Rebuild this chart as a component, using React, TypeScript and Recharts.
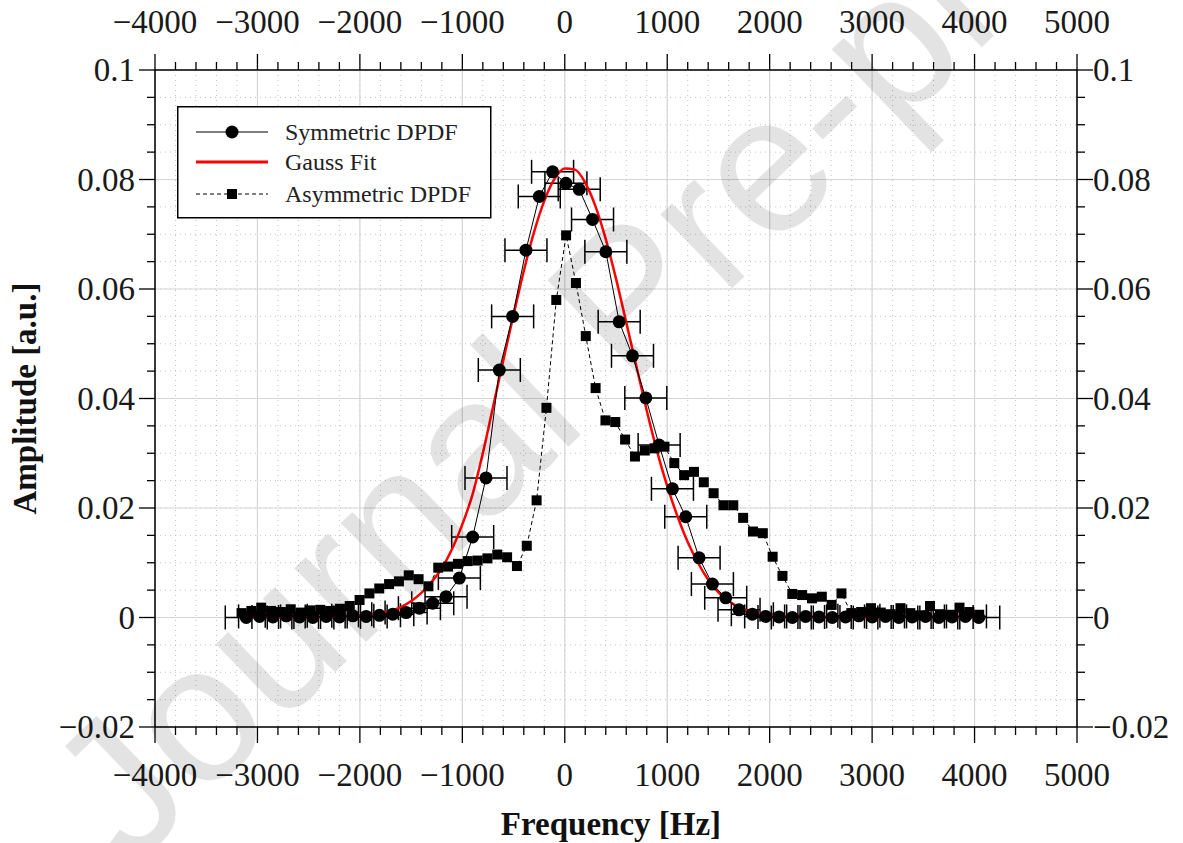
import React from "react";
import {
  ComposedChart,
  Line,
  Scatter,
  XAxis,
  YAxis,
  CartesianGrid,
  ErrorBar,
  Legend,
  Label,
} from "recharts";

// symmetric DPDF (Hz, a.u.)
const symFreq = [
  -3109, -2979, -2849, -2719, -2589, -2459, -2329, -2199, -2069, -1939,
  -1809, -1679, -1549, -1419, -1289, -1159, -1029, -899, -769, -639,
  -509, -379, -249, -119, 11, 141, 271, 401, 531, 661,
  791, 921, 1051, 1181, 1311, 1441, 1571, 1701, 1831, 1961,
  2091, 2221, 2351, 2481, 2611, 2741, 2871, 3001, 3131, 3261,
  3391, 3521, 3651, 3781, 3911, 4041,
];
const symAmp = [
  0.0, 0.0002, 0.0001, 0.0003, 0.0001, 0.0, 0.0002, 0.0001, 0.0003, 0.0002,
  0.0004, 0.0006, 0.0009, 0.0017, 0.0026, 0.0038, 0.0072, 0.0147, 0.0255, 0.0452,
  0.055, 0.0671, 0.0769, 0.0814, 0.0793, 0.0782, 0.0727, 0.0668, 0.054, 0.0478,
  0.0401, 0.0315, 0.0235, 0.0184, 0.0109, 0.0061, 0.0036, 0.0014, 0.0006, 0.0002,
  0.0001, 0.0, 0.0002, 0.0001, 0.0, 0.0001, 0.0003, 0.0001, 0.0002, 0.0,
  0.0001, 0.0002, 0.0, 0.0001, 0.0002, 0.0,
];
const symErr = 205; // half width of the frequency error bars

// asymmetric DPDF
const asymFreq = [
  -3155, -3059, -2963, -2867, -2771, -2675, -2579, -2483, -2387, -2291,
  -2195, -2099, -2003, -1907, -1811, -1715, -1619, -1523, -1427, -1331,
  -1235, -1139, -1043, -947, -851, -755, -659, -563, -467, -371,
  -275, -179, -83, 13, 109, 205, 301, 397, 493, 589,
  685, 781, 877, 973, 1069, 1165, 1261, 1357, 1453, 1549,
  1645, 1741, 1837, 1933, 2029, 2125, 2221, 2317, 2413, 2509,
  2605, 2701, 2797, 2893, 2989, 3085, 3181, 3277, 3373, 3469,
  3565, 3661, 3757, 3853, 3949, 4045,
];
const asymAmp = [
  0.0008, 0.0012, 0.0018, 0.0012, 0.001, 0.0015, 0.0009, 0.0013, 0.0014, 0.0012,
  0.0016, 0.0021, 0.0032, 0.0044, 0.0053, 0.0061, 0.0066, 0.0077, 0.007, 0.0057,
  0.0091, 0.0093, 0.0098, 0.0103, 0.0104, 0.0108, 0.0115, 0.011, 0.0094, 0.0131,
  0.0214, 0.0383, 0.058, 0.0698, 0.0611, 0.0514, 0.0419, 0.036, 0.0357, 0.0325,
  0.0294, 0.0305, 0.0309, 0.0312, 0.0282, 0.026, 0.0266, 0.0247, 0.0227, 0.0205,
  0.0205, 0.0182, 0.0157, 0.0154, 0.0111, 0.0076, 0.0043, 0.0041, 0.0035, 0.0038,
  0.0023, 0.0044, 0.0008, 0.001, 0.0017, 0.0009, 0.0006, 0.0017, 0.0008, 0.0004,
  0.0021, 0.0006, 0.0005, 0.0018, 0.001, 0.0005,
];

// gauss fit curve, sampled from the red line
const gaussFreq = [
  -3150, -2400, -2200, -2000, -1800, -1600, -1400, -1300, -1200, -1100,
  -1000, -900, -800, -700, -600, -500, -400, -300, -200, -100,
  0, 100, 200, 300, 400, 500, 600, 700, 800, 900,
  1000, 1100, 1200, 1300, 1400, 1500, 1600, 1800, 2000, 2200,
  2600, 4050,
];
const gaussAmp = [
  0.0, 0.0, 0.0001, 0.0003, 0.0008, 0.0019, 0.0045, 0.0065, 0.009, 0.0125,
  0.017, 0.0225, 0.03, 0.0385, 0.047, 0.0553, 0.0633, 0.0704, 0.0761, 0.0801,
  0.082, 0.0818, 0.0794, 0.0751, 0.0691, 0.0619, 0.0539, 0.0458, 0.0378, 0.0304,
  0.024, 0.0185, 0.0138, 0.01, 0.0069, 0.0046, 0.003, 0.0011, 0.0004, 0.0001,
  0.0, 0.0,
];

const xMajor = [-4000, -3000, -2000, -1000, 0, 1000, 2000, 3000, 4000, 5000];
const yMajor = [-0.02, 0, 0.02, 0.04, 0.06, 0.08, 0.1];
const xTicks = Array.from({ length: 46 }, (_, i) => -4000 + i * 200);
const yTicks = Array.from({ length: 25 }, (_, i) => Math.round((-0.02 + i * 0.005) * 1000) / 1000);

const symData = symFreq.map((f, i) => ({ x: f, y: symAmp[i], err: symErr }));
const asymData = asymFreq.map((f, i) => ({ x: f, y: asymAmp[i] }));
const gaussData = gaussFreq.map((f, i) => ({ x: f, y: gaussAmp[i] }));

const FONT = "'Liberation Serif', 'DejaVu Serif', serif";
const MAJ = 16;
const MIN = 8;

const fmt = (v: number) => (v < 0 ? "\u2212" + String(Math.abs(v)) : String(v));
const isMajX = (v: number) => xMajor.includes(v);
const isMajY = (v: number) => yMajor.some((m) => Math.abs(m - v) < 1e-9);

const tickText = { fontFamily: FONT, fontSize: 33, fill: "#1a1a1a" };

const bottomTick = ({ x, y, payload }: any) => {
  const maj = isMajX(payload.value);
  return (
    <g>
      <line x1={x} x2={x} y1={y} y2={y + (maj ? MAJ : MIN)} stroke="#000" strokeWidth={1.3} />
      {maj && (
        <text x={x} y={y + 48} textAnchor="middle" dominantBaseline="central" {...tickText}>
          {fmt(payload.value)}
        </text>
      )}
    </g>
  );
};

const topTick = ({ x, y, payload }: any) => {
  const maj = isMajX(payload.value);
  return (
    <g>
      <line x1={x} x2={x} y1={y} y2={y - (maj ? MAJ : MIN)} stroke="#000" strokeWidth={1.3} />
      {maj && (
        <text x={x} y={y - 48} textAnchor="middle" dominantBaseline="central" {...tickText}>
          {fmt(payload.value)}
        </text>
      )}
    </g>
  );
};

const leftTick = ({ x, y, payload }: any) => {
  const maj = isMajY(payload.value);
  return (
    <g>
      <line x1={x} x2={x - (maj ? MAJ : MIN)} y1={y} y2={y} stroke="#000" strokeWidth={1.3} />
      {maj && (
        <text x={x - 20} y={y} textAnchor="end" dominantBaseline="central" {...tickText}>
          {fmt(payload.value)}
        </text>
      )}
    </g>
  );
};

const rightTick = ({ x, y, payload }: any) => {
  const maj = isMajY(payload.value);
  return (
    <g>
      <line x1={x} x2={x + (maj ? MAJ : MIN)} y1={y} y2={y} stroke="#000" strokeWidth={1.3} />
      {maj && (
        <text x={x + 16} y={y} textAnchor="start" dominantBaseline="central" {...tickText}>
          {fmt(payload.value)}
        </text>
      )}
    </g>
  );
};

const circleShape = (p: any) => <circle cx={p.cx} cy={p.cy} r={6.5} fill="#000" />;
const squareShape = (p: any) => <rect x={p.cx - 5} y={p.cy - 5} width={10} height={10} fill="#000" />;

const legendText = { fontFamily: FONT, fontSize: 24, fill: "#222" };

const renderLegend = () => (
  <svg width={316} height={114} style={{ display: "block" }}>
    <rect x={0.75} y={0.75} width={313} height={111} fill="#fff" stroke="#000" strokeWidth={1.5} />
    <line x1={19} x2={91} y1={26} y2={26} stroke="#000" strokeWidth={1} />
    <circle cx={55} cy={26} r={6.5} fill="#000" />
    <text x={108} y={26} dominantBaseline="central" {...legendText}>Symmetric DPDF</text>
    <line x1={19} x2={91} y1={56} y2={56} stroke="#ff0000" strokeWidth={3} />
    <text x={108} y={56} dominantBaseline="central" {...legendText}>Gauss Fit</text>
    <line x1={19} x2={91} y1={88} y2={88} stroke="#000" strokeWidth={1} strokeDasharray="4 3" />
    <rect x={50} y={83} width={10} height={10} fill="#000" />
    <text x={108} y={88} dominantBaseline="central" {...legendText}>Asymmetric DPDF</text>
  </svg>
);

const axisLine = { stroke: "#000", strokeWidth: 1.5 };

export default function App() {
  return (
    <div style={{ position: "absolute", left: 0, top: 0, width: 1183, height: 843, background: "#fff" }}>
      <ComposedChart width={1183} height={843} margin={{ top: 0, right: 0, bottom: 0, left: 0 }}>
        <CartesianGrid
          stroke="#c4c4c4"
          strokeDasharray="1 4"
          verticalValues={xTicks}
          horizontalValues={yTicks}
        />
        <CartesianGrid stroke="#d6d6d6" strokeWidth={1.2} verticalValues={xMajor} horizontalValues={yMajor} />
        <XAxis
          dataKey="x"
          type="number"
          domain={[-4000, 5000]}
          allowDataOverflow
          ticks={xTicks}
          interval={0}
          height={116}
          tickSize={0}
          tickMargin={0}
          tickLine={false}
          axisLine={axisLine}
          tick={bottomTick}
        >
          <Label
            content={({ viewBox }: any) => (
              <text
                x={viewBox.x + viewBox.width / 2 - 5}
                y={viewBox.y + 97}
                textAnchor="middle"
                dominantBaseline="central"
                fontFamily={FONT}
                fontSize={33}
                fontWeight="bold"
                fill="#111"
              >
                Frequency [Hz]
              </text>
            )}
          />
        </XAxis>
        <XAxis
          xAxisId="top"
          orientation="top"
          dataKey="x"
          type="number"
          domain={[-4000, 5000]}
          allowDataOverflow
          ticks={xTicks}
          interval={0}
          height={70}
          tickSize={0}
          tickMargin={0}
          tickLine={false}
          axisLine={axisLine}
          tick={topTick}
        />
        <YAxis
          type="number"
          domain={[-0.02, 0.1]}
          allowDataOverflow
          ticks={yTicks}
          interval={0}
          width={155}
          tickSize={0}
          tickMargin={0}
          tickLine={false}
          axisLine={axisLine}
          tick={leftTick}
        >
          <Label
            content={({ viewBox }: any) => {
              const cx = 25;
              const cy = viewBox.y + viewBox.height / 2;
              return (
                <text
                  x={cx}
                  y={cy}
                  transform={`rotate(-90 ${cx} ${cy})`}
                  textAnchor="middle"
                  dominantBaseline="central"
                  fontFamily={FONT}
                  fontSize={33}
                  fontWeight="bold"
                  fill="#111"
                >
                  Amplitude [a.u.]
                </text>
              );
            }}
          />
        </YAxis>
        <YAxis
          yAxisId="right"
          orientation="right"
          type="number"
          domain={[-0.02, 0.1]}
          allowDataOverflow
          ticks={yTicks}
          interval={0}
          width={106}
          tickSize={0}
          tickMargin={0}
          tickLine={false}
          axisLine={axisLine}
          tick={rightTick}
        />
        <Scatter
          name="Asymmetric DPDF"
          data={asymData}
          dataKey="y"
          shape={squareShape}
          line={{ stroke: "#000", strokeWidth: 1, strokeDasharray: "4 3" }}
          isAnimationActive={false}
        />
        <Scatter
          name="Symmetric DPDF"
          data={symData}
          dataKey="y"
          shape={circleShape}
          line={{ stroke: "#000", strokeWidth: 1 }}
          isAnimationActive={false}
        >
          <ErrorBar dataKey="err" direction="x" width={12} stroke="#000" strokeWidth={1.5} />
        </Scatter>
        <Line
          name="Gauss Fit"
          data={gaussData}
          dataKey="y"
          type="monotone"
          stroke="#ff0000"
          strokeWidth={2.5}
          dot={false}
          activeDot={false}
          isAnimationActive={false}
        />
        <Legend
          layout="horizontal"
          verticalAlign="middle"
          align="center"
          content={renderLegend}
          wrapperStyle={{ left: 177, top: 106, width: 316, height: 114 }}
        />
      </ComposedChart>
      <svg
        width={1183}
        height={843}
        style={{ position: "absolute", left: 0, top: 0, pointerEvents: "none" }}
      >
        <text
          x={130}
          y={870}
          transform="rotate(-44 130 870)"
          fontFamily="'Liberation Sans', Arial, sans-serif"
          fontSize={195}
          fill="rgba(0,0,0,0.11)"
        >
          Journal Pre-proof
        </text>
      </svg>
    </div>
  );
}
